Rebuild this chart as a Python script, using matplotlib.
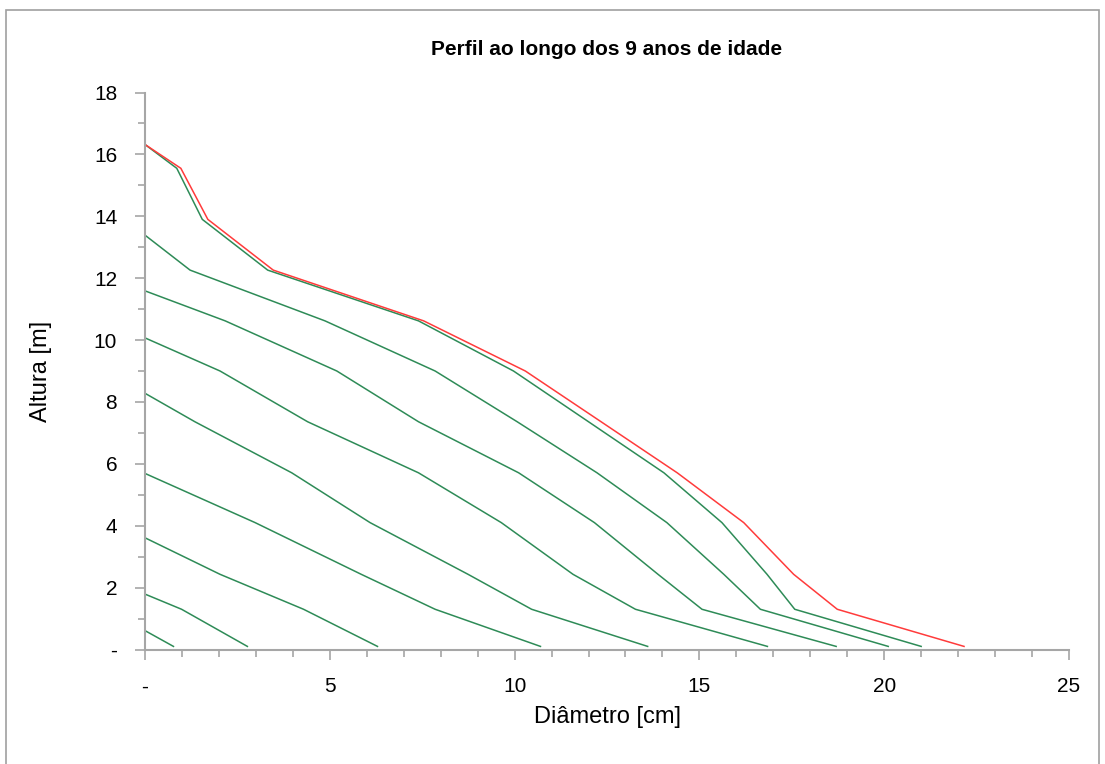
import matplotlib
matplotlib.use("Agg")
import matplotlib.pyplot as plt
from matplotlib.ticker import MultipleLocator, FixedLocator
from matplotlib.patches import Rectangle

# Section heights [m] (common for all profiles)
heights = [0.1, 1.3, 2.43, 4.1, 5.71, 7.36, 9.0, 10.62, 12.26, 13.9, 15.55]

# Total height of each profile (year 1..9, last = red outer profile)
tops = [0.61, 1.79, 3.61, 5.69, 8.28, 10.07, 11.59, 13.39, 16.32, 16.32]

# Diameters [cm] at each section height (bottom -> up), for each profile
diam_y1 = [0.77]
diam_y2 = [2.77, 0.99]
diam_y3 = [6.29, 4.29, 2.03]
diam_y4 = [10.70, 7.85, 5.85, 2.98]
diam_y5 = [13.60, 10.46, 8.74, 6.09, 3.97, 1.35]
diam_y6 = [16.84, 13.27, 11.58, 9.64, 7.40, 4.40, 2.03]
diam_y7 = [18.70, 15.07, 13.88, 12.16, 10.11, 7.40, 5.19, 2.17]
diam_y8 = [20.11, 16.65, 15.66, 14.12, 12.23, 10.07, 7.85, 4.87, 1.22]
diam_y9 = [21.00, 17.58, 16.83, 15.61, 14.04, 12.00, 9.97, 7.40, 3.32, 1.55, 0.86]
diam_red = [22.16, 18.73, 17.55, 16.20, 14.40, 12.34, 10.29, 7.54, 3.47, 1.70, 0.97]

profiles = [diam_y1, diam_y2, diam_y3, diam_y4, diam_y5, diam_y6,
            diam_y7, diam_y8, diam_y9, diam_red]
colors = ["#2E8B57"] * 9 + ["#FF3B3B"]

x_ticks = [0, 5, 10, 15, 20, 25]
x_ticklabels = ["-", "5", "10", "15", "20", "25"]
y_ticks = [0, 2, 4, 6, 8, 10, 12, 14, 16, 18]
y_ticklabels = ["-", "2", "4", "6", "8", "10", "12", "14", "16", "18"]

title = "Perfil ao longo dos 9 anos de idade"
xlabel = "Diâmetro [cm]"
ylabel = "Altura [m]"

plt.rcParams['font.family'] = ['Liberation Sans', 'DejaVu Sans']

fig = plt.figure(figsize=(11.05, 7.64), dpi=100)
ax = fig.add_axes([145/1105, 1 - 649.5/764, (1069-145)/1105, (649.5-92.5)/764])

for d, top, c in zip(profiles, tops, colors):
    xs = list(d) + [0.0]
    ys = heights[:len(d)] + [top]
    ax.plot(xs, ys, color=c, lw=1.1, solid_joinstyle='miter')

ax.set_xlim(0, 25)
ax.set_ylim(0, 18)
ax.xaxis.set_major_locator(FixedLocator(x_ticks))
ax.set_xticklabels(x_ticklabels)
ax.yaxis.set_major_locator(FixedLocator(y_ticks))
ax.set_yticklabels(y_ticklabels)
ax.xaxis.set_minor_locator(MultipleLocator(1))
ax.yaxis.set_minor_locator(MultipleLocator(1))

gray = "#A6A6A6"
for s in ["top", "right"]:
    ax.spines[s].set_visible(False)
for s in ["left", "bottom"]:
    ax.spines[s].set_color(gray)
    ax.spines[s].set_linewidth(1.5)
ax.tick_params(which="major", direction="out", length=7, width=1.2, color=gray,
               labelsize=15, labelcolor="#000000")
ax.tick_params(which="minor", direction="out", length=5, width=1.2, color=gray)
ax.tick_params(axis="x", which="major", pad=13)
ax.tick_params(axis="y", which="major", pad=13)

ax.set_title(title, fontsize=15, fontweight="bold", pad=27)
ax.set_xlabel(xlabel, fontsize=17, labelpad=7)
ax.set_ylabel(ylabel, fontsize=17, labelpad=30)

# outer chart border
fig.patches.append(Rectangle((6/1105, -0.05), (1099-6)/1105, 1.05 - 10/764,
                             transform=fig.transFigure, fill=False,
                             edgecolor="#A0A0A0", lw=1.2))

fig.savefig("out.png", dpi=100)
